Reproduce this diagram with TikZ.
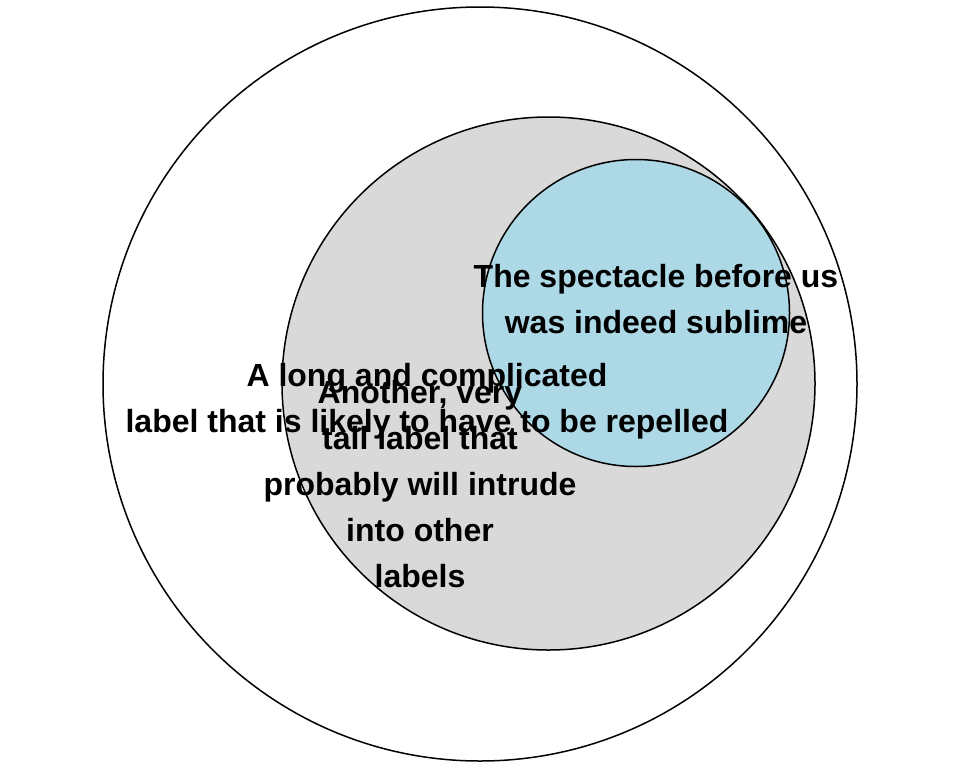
\documentclass[tikz,border=0pt]{standalone}
\usepackage{fontspec}
\setmainfont{Liberation Sans}
\usepackage{tikz}
\usetikzlibrary{positioning}
\usepackage{xcolor}

\definecolor{setgray}{HTML}{D9D9D9}
\definecolor{setblue}{HTML}{ADD8E6}

\begin{document}
\begin{tikzpicture}[
        x=1pt, y=-1pt,
        % Style for the set circles
        setcircle/.style={circle, draw=black, line width=1.5pt, inner sep=0pt, outer sep=0pt},
        % Style for the set labels
        setlabel/.style={align=center, inner sep=0pt, font=\bfseries\fontsize{32}{46}\selectfont}
    ]

    \useasboundingbox (0,0) rectangle (960,768);

    % --- SETS ---
    \node (outer) [setcircle, fill=white, minimum size=754pt] at (480,384) {};
    \node (middle) [setcircle, fill=setgray, minimum size=533pt] at (548.5,383.5) {};
    \node (inner) [setcircle, fill=setblue, minimum size=307pt] at (636,313) {};

    % --- LABELS ---
    \node (spectacle) [setlabel] at (656,299) {The spectacle before us\\was indeed sublime};
    \node (longlabel) [setlabel] at (427,401) {A long and complicated\\label that is likely to have to be repelled};
    \node (talllabel) [setlabel] at (420,484) {Another, very\\tall label that\\probably will intrude\\into other\\labels};

\end{tikzpicture}
\end{document}
